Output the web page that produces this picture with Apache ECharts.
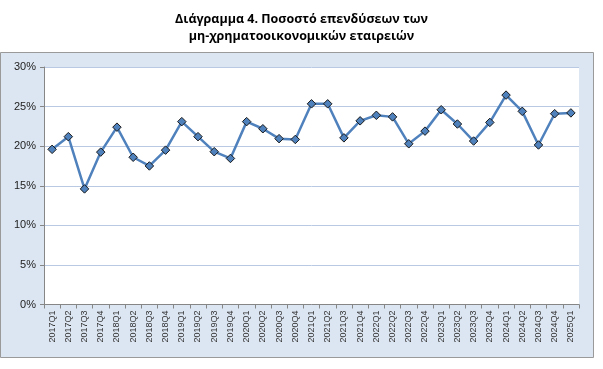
<!DOCTYPE html>
<html><head><meta charset="utf-8">
<script src="https://cdn.jsdelivr.net/npm/echarts@6/dist/echarts.min.js"></script>
<style>html,body{margin:0;padding:0;background:#fff}#c{width:603px;height:369px}</style>
</head><body><div id="c"></div>
<script>
const categories = ["2017Q1","2017Q2","2017Q3","2017Q4","2018Q1","2018Q2","2018Q3","2018Q4","2019Q1","2019Q2","2019Q3","2019Q4","2020Q1","2020Q2","2020Q3","2020Q4","2021Q1","2021Q2","2021Q3","2021Q4","2022Q1","2022Q2","2022Q3","2022Q4","2023Q1","2023Q2","2023Q3","2023Q4","2024Q1","2024Q2","2024Q3","2024Q4","2025Q1"];
const values = [19.6,21.2,14.6,19.25,22.4,18.6,17.5,19.5,23.1,21.2,19.3,18.45,23.1,22.2,20.95,20.85,25.35,25.35,21.05,23.2,23.9,23.7,20.3,21.9,24.6,22.8,20.65,23.0,26.45,24.4,20.15,24.1,24.2];
const yTicks = [0,5,10,15,20,25,30];

const chart = echarts.init(document.getElementById('c'), null, {renderer:'canvas'});
chart.setOption({
  animation:false,
  backgroundColor:'#ffffff',
  graphic:[{type:'rect',z:-10,shape:{x:0.5,y:52.5,width:593,height:305},style:{fill:'#dce6f2',stroke:'#9a9a9a',lineWidth:1}}],
  title:{text:'Διάγραμμα 4. Ποσοστό επενδύσεων των\nμη-χρηματοοικονομικών εταιρειών',left:'center',top:6,
    textStyle:{fontFamily:'Open Sans',fontSize:12.5,fontWeight:'bold',color:'#000',lineHeight:17}},
  grid:{left:44,right:24,top:67,bottom:64.5,show:true,backgroundColor:'#ffffff',borderWidth:0},
  xAxis:{type:'category',data:categories,boundaryGap:true,
    axisLine:{lineStyle:{color:'#868686',width:1}},
    axisTick:{show:true,alignWithLabel:false,length:4,lineStyle:{color:'#868686'}},
    axisLabel:{rotate:90,fontSize:9,fontFamily:'Liberation Sans',color:'#333',margin:6,interval:0}},
  yAxis:{type:'value',min:0,max:30,interval:5,
    axisLine:{show:true,lineStyle:{color:'#868686',width:1}},
    axisTick:{show:true,length:4,lineStyle:{color:'#868686'}},
    axisLabel:{formatter:v=>v+'%',fontSize:11,fontFamily:'Liberation Sans',color:'#222',margin:8},
    splitLine:{lineStyle:{color:'#b9c9e3',width:1}}},
  series:[{type:'line',data:values,symbol:'diamond',symbolSize:8.5,
    lineStyle:{color:'#4f81bd',width:2.5},
    itemStyle:{color:'#4f81bd',borderColor:'#1a1a1a',borderWidth:1}}]
});
</script></body></html>
